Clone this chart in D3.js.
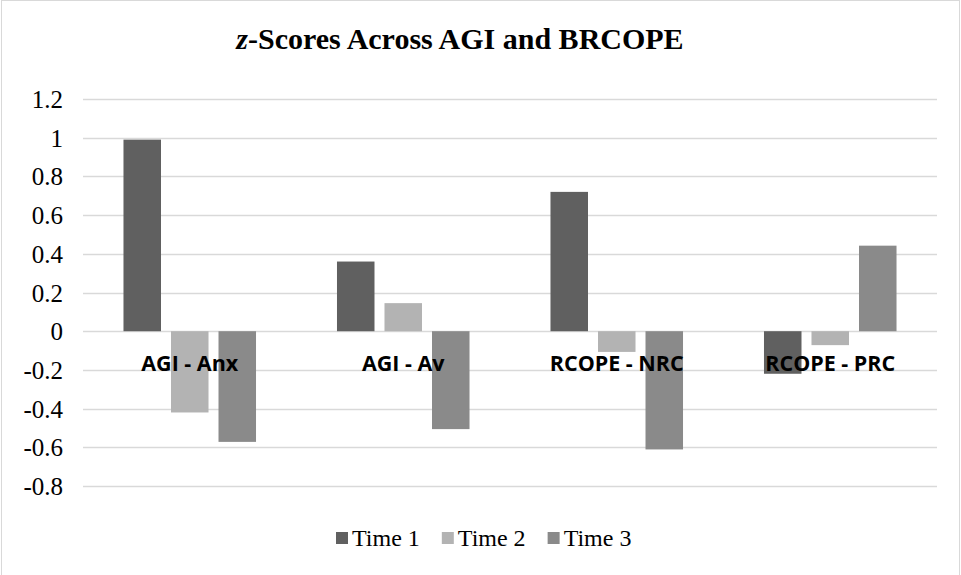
<!DOCTYPE html>
<html>
<head>
<meta charset="utf-8">
<script src="https://cdn.jsdelivr.net/npm/d3@7"></script>
<style>
  html, body { margin: 0; padding: 0; background: #fff; }
  svg { display: block; }
  .serif { font-family: "Liberation Serif", "Times New Roman", Tinos, serif; }
  .sans { font-family: "Open Sans", "Liberation Sans", sans-serif; }
</style>
</head>
<body>
<svg id="chart" width="961" height="575"></svg>
<script>
// Scale categories and time points
const categories = ["AGI - Anx", "AGI - Av", "RCOPE - NRC", "RCOPE - PRC"];
const seriesNames = ["Time 1", "Time 2", "Time 3"];
const time1 = [0.99, 0.36, 0.72, -0.22];
const time2 = [-0.42, 0.145, -0.107, -0.072];
const time3 = [-0.572, -0.506, -0.611, 0.442];
const seriesValues = [time1, time2, time3];
const yTicks = [1.2, 1, 0.8, 0.6, 0.4, 0.2, 0, -0.2, -0.4, -0.6, -0.8];
const colors = ["#606060", "#b3b3b3", "#8a8a8a"];

const W = 961, H = 575;
const plot = { left: 83, right: 937, top: 99, bottom: 486 };

const svg = d3.select("#chart");

// chart frame
svg.append("rect")
  .attr("x", 1.5).attr("y", 0.5)
  .attr("width", W - 3).attr("height", H + 5)
  .attr("fill", "#fff").attr("stroke", "#d9d9d9").attr("stroke-width", 1);

const y = d3.scaleLinear().domain([-0.8, 1.2]).range([plot.bottom, plot.top]);
const x0 = d3.scaleBand().domain(categories).range([plot.left, plot.right]).padding(0);
const x1 = d3.scaleBand().domain(seriesNames).range([0, x0.bandwidth()])
  .paddingInner(0.2105).paddingOuter(0.852);

// horizontal gridlines
svg.append("g")
  .selectAll("line")
  .data(yTicks)
  .join("line")
  .attr("x1", plot.left).attr("x2", plot.right)
  .attr("y1", d => Math.round(y(d)) + 0.5).attr("y2", d => Math.round(y(d)) + 0.5)
  .attr("stroke", "#d9d9d9").attr("stroke-width", 1.5);

// y axis labels
const yAxis = d3.axisLeft(y).tickValues(yTicks).tickSize(0).tickPadding(0)
  .tickFormat(d => String(d));
const yg = svg.append("g").attr("transform", `translate(${63},0)`).call(yAxis);
yg.attr("font-family", null).attr("font-size", null);
yg.select(".domain").remove();
yg.selectAll("text")
  .attr("class", "serif")
  .style("font-size", "25px")
  .attr("fill", "#000")
  .attr("dy", "0.34em");

// bars
const rows = [];
categories.forEach((c, i) => {
  seriesNames.forEach((s, j) => rows.push({ cat: c, series: s, idx: j, value: seriesValues[j][i] }));
});

svg.append("g")
  .selectAll("rect")
  .data(rows)
  .join("rect")
  .attr("x", d => x0(d.cat) + x1(d.series))
  .attr("width", x1.bandwidth())
  .attr("y", d => y(Math.max(0, d.value)))
  .attr("height", d => Math.abs(y(d.value) - y(0)))
  .attr("fill", d => colors[d.idx]);

// category labels, placed just below the zero line
svg.append("g")
  .selectAll("text")
  .data(categories)
  .join("text")
  .attr("class", "sans")
  .attr("x", d => x0(d) + x0.bandwidth() / 2)
  .attr("y", 371)
  .attr("text-anchor", "middle")
  .style("font-weight", 700)
  .style("font-size", "21.5px")
  .attr("fill", "#000")
  .text(d => d);

// title
const title = svg.append("text")
  .attr("class", "serif")
  .attr("x", 460).attr("y", 49)
  .attr("text-anchor", "middle")
  .style("font-weight", 700)
  .style("font-size", "30px")
  .attr("fill", "#000");
title.append("tspan").style("font-style", "italic").text("z");
title.append("tspan").text("-Scores Across AGI and BRCOPE");

// legend: swatch + label, laid out left to right
let lx = 336;
seriesNames.forEach((name, i) => {
  const g = svg.append("g");
  g.append("rect")
    .attr("x", lx).attr("y", 532).attr("width", 12).attr("height", 12)
    .attr("fill", colors[i]);
  const t = g.append("text")
    .attr("class", "serif")
    .attr("x", lx + 16).attr("y", 546)
    .style("font-size", "24px")
    .attr("fill", "#000")
    .text(name);
  lx += 16 + t.node().getComputedTextLength() + 22;
});
</script>
</body>
</html>
